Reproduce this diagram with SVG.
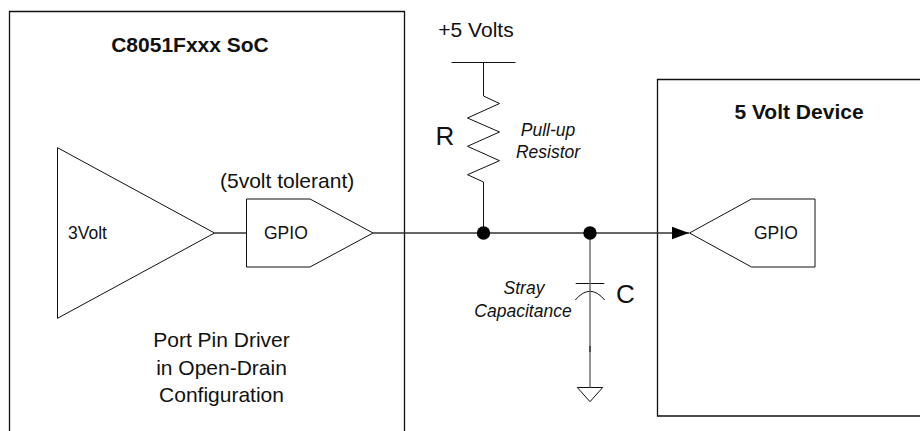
<svg xmlns="http://www.w3.org/2000/svg" width="920" height="431" viewBox="0 0 920 431">
<style>
text{font-family:"Liberation Sans",Arial,sans-serif;fill:#111}
.b{fill:none;stroke:#111;stroke-width:1.3}
.s{fill:none;stroke:#111;stroke-width:1}
.w{fill:none;stroke:#333;stroke-width:1.4}
.g{fill:none;stroke:#666;stroke-width:1.4}
.f{fill:#000;stroke:none}
.m{text-anchor:middle}
.h{font-size:21px}
.l{font-size:21px;font-weight:bold}
.n{font-size:17.500px}
.i{font-size:17.500px;font-style:italic}
.r{font-size:26px}
</style>
<defs><marker id="a" markerUnits="userSpaceOnUse" markerWidth="18" markerHeight="14" refX="17" refY="7" orient="auto"><path d="M0 0.700L17 7L0 13.300Z" fill="#000"/></marker></defs>
<rect width="920" height="431" fill="#fff"/>
<g id="soc">
<path class="b" d="M9.500 431V11.500H404.500V431"/>
<text class="l m" x="190" y="52">C8051Fxxx SoC</text>
<text class="h m" x="221.500" y="347">Port Pin Driver</text>
<text class="h m" x="221.500" y="374.500">in Open-Drain</text>
<text class="h m" x="221.500" y="402">Configuration</text>
</g>
<g id="driver">
<path class="s" d="M57.500 147.700V318.300L214.500 233Z"/>
<text class="n" x="68" y="239">3Volt</text>
</g>
<g id="gpio-out">
<path class="s" d="M246.500 199H310L373 233L310 267H246.500Z"/>
<text class="n" x="264" y="239">GPIO</text>
<text class="h" x="220" y="188">(5volt tolerant)</text>
</g>
<g id="device">
<path class="b" d="M920 79.500H657.500V416H920"/>
<text class="l m" x="799" y="119">5 Volt Device</text>
</g>
<g id="gpio-in">
<path class="s" d="M689.500 233L751.500 199H815V267H751.500Z"/>
<text class="n" x="754" y="239">GPIO</text>
</g>
<g id="vcc">
<path class="s" d="M451.500 62.500H515.500"/>
<text class="h m" x="476" y="37">+5 Volts</text>
</g>
<g id="resistor">
<path class="s" d="M483.500 62.500V96L499.500 103.500L467.500 118L499.500 132L467.500 146.300L499.500 160.700L467.500 174.700L483.500 182V233"/>
<text class="r" x="435.500" y="145">R</text>
<text class="i m" x="548" y="136">Pull-up</text>
<text class="i m" x="548" y="158">Resistor</text>
</g>
<g id="capacitor">
<path class="s" d="M575.700 283.500H604.300M575.300 300Q590 282.600 604.700 300"/>
<text class="r" x="616" y="303">C</text>
<text class="i m" x="524" y="294">Stray</text>
<text class="i m" x="523" y="316.500">Capacitance</text>
</g>
<g id="ground">
<path class="s" d="M577.300 387.500H602.700L590 401.700Z"/>
</g>
<g id="connectors">
<path class="w" d="M214.500 233H246.500"/>
<path class="w" d="M373 233H689" marker-end="url(#a)"/>
<path class="g" d="M590 233V387.500"/>
<path class="w" d="M590 346V352"/>
<circle class="f" cx="483.500" cy="233" r="6.700"/>
<circle class="f" cx="590" cy="233" r="6.700"/>
</g>
</svg>
